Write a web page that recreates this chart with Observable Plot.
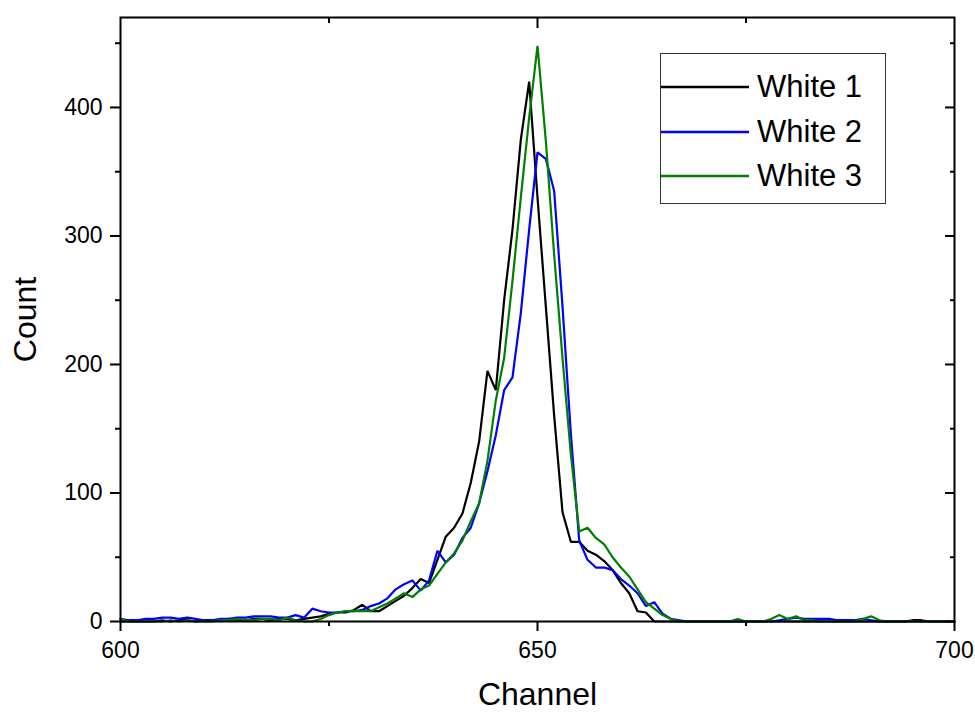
<!DOCTYPE html>
<html>
<head>
<meta charset="utf-8">
<script src="https://cdn.jsdelivr.net/npm/d3@7"></script>
<script src="https://cdn.jsdelivr.net/npm/@observablehq/plot@0.6"></script>
<style>
  body { margin: 0; background: #fff; }
  #wrap { position: relative; width: 975px; height: 713px; font-family: "Liberation Sans", Arial, sans-serif; }
  #legend { position: absolute; left: 660px; top: 53px; width: 226px; height: 151px; border: 1.5px solid #333; background: #fff; box-sizing: border-box; }
  .item { position: absolute; left: 0; height: 40px; display: flex; align-items: center; }
  .item svg { display: block; }
  .item span { font-size: 31px; color: #000; margin-left: 8px; white-space: nowrap; }
</style>
</head>
<body>
<div id="wrap"></div>
<script>
// ---- data ----
const channelStart = 600, channelEnd = 700;
const seriesNames = ["White 1", "White 2", "White 3"];
const seriesColors = ["#000000", "#0000ff", "#008000"];

// counts per channel, channels 600..700
const white1 = [
  0,0,0,0,0,1,0,1,1,0,          // 600-609
  1,1,1,2,1,1,2,2,1,2,          // 610-619
  2,1,2,3,4,6,7,7,9,13,         // 620-629
  8,8,12,16,20,26,33,30,48,66,  // 630-639
  73,84,108,140,195,180,250,305,375,420, // 640-649
  330,245,160,85,62,62,55,52,47,40,      // 650-659
  30,22,8,7,0,0,0,0,0,0,        // 660-669
  0,0,0,0,0,0,0,0,0,0,          // 670-679
  0,0,0,0,0,0,0,0,0,0,          // 680-689
  0,0,0,0,0,1,1,0,0,0,          // 690-699
  0                             // 700
];
const white2 = [
  2,1,1,2,2,3,3,2,3,2,
  1,1,2,2,3,3,4,4,4,3,
  3,5,3,10,8,7,7,8,8,9,
  12,14,18,25,29,32,24,32,55,46,
  52,65,73,92,117,145,180,190,240,305,
  365,360,335,245,146,63,48,42,42,40,
  33,28,22,12,15,6,2,1,0,0,
  0,0,0,0,0,0,0,0,0,1,
  2,3,2,2,2,2,1,1,1,2,
  1,0,0,0,0,0,0,0,0,0,
  0
];
const white3 = [
  2,0,0,0,0,0,1,0,1,0,
  0,0,1,1,2,1,1,2,2,1,
  3,1,0,0,2,5,7,8,8,8,
  8,11,14,18,22,19,25,28,37,46,
  53,63,78,92,125,172,205,265,330,392,
  448,374,285,205,130,70,73,65,60,50,
  42,35,25,15,10,5,2,0,0,0,
  0,0,0,0,2,0,0,0,2,5,
  2,4,1,1,0,0,0,0,0,2,
  4,1,0,0,0,0,0,0,0,0,
  0
];
const xMajorTicks = [600, 650, 700];
const xMinorTicks = [625, 675];
const yMajorTicks = [0, 100, 200, 300, 400];
const yMinorTicks = [50, 150, 250, 350, 450];

// ---- build table ----
const seriesValues = [white1, white2, white3];
const data = [];
seriesValues.forEach((vals, s) => {
  vals.forEach((v, i) => data.push({channel: channelStart + i, count: v, series: seriesNames[s]}));
});

const blank = () => "";
const chart = Plot.plot({
  width: 975,
  height: 713,
  marginLeft: 120,
  marginRight: 21,
  marginTop: 17,
  marginBottom: 92,
  style: {fontFamily: "'Liberation Sans', Arial, sans-serif", fontSize: "23px", color: "#000", background: "#fff"},
  x: {domain: [channelStart, channelEnd]},
  y: {domain: [0, 470]},
  color: {domain: seriesNames, range: seriesColors},
  marks: [
    Plot.lineY(data, {x: "channel", y: "count", z: "series", stroke: "series", strokeWidth: 2.2, strokeLinejoin: "miter"}),
    // bottom
    Plot.axisX({anchor: "bottom", ticks: xMajorTicks, tickSize: 10, tickPadding: 10, strokeWidth: 2, tickFormat: d => String(d), fontSize: 23,
      label: "Channel", labelAnchor: "center", labelArrow: "none", labelOffset: 83}),
    Plot.axisX({anchor: "bottom", ticks: xMinorTicks, tickSize: 5, strokeWidth: 2, tickFormat: blank, label: null}),
    // top (inward)
    Plot.axisX({anchor: "top", ticks: [650], tickSize: 10, dy: 10, strokeWidth: 2, tickFormat: blank, label: null}),
    Plot.axisX({anchor: "top", ticks: xMinorTicks, tickSize: 5, dy: 5, strokeWidth: 2, tickFormat: blank, label: null}),
    // left
    Plot.axisY({anchor: "left", ticks: yMajorTicks, tickSize: 10, tickPadding: 8, strokeWidth: 2, tickFormat: d => String(d), fontSize: 23,
      label: "Count", labelAnchor: "center", labelArrow: "none", labelOffset: 107}),
    Plot.axisY({anchor: "left", ticks: yMinorTicks, tickSize: 5, strokeWidth: 2, tickFormat: blank, label: null}),
    // right (inward)
    Plot.axisY({anchor: "right", ticks: yMajorTicks, tickSize: 10, dx: -10, strokeWidth: 2, tickFormat: blank, label: null}),
    Plot.axisY({anchor: "right", ticks: yMinorTicks, tickSize: 5, dx: -5, strokeWidth: 2, tickFormat: blank, label: null}),
    Plot.frame({stroke: "#000", strokeWidth: 2})
  ]
});
d3.select(chart).selectAll("[aria-label$='axis label'] text").style("font-size", "32px");

const wrap = document.getElementById("wrap");
wrap.appendChild(chart);

// ---- legend (overlay) ----
const legend = document.createElement("div");
legend.id = "legend";
const itemTops = [13, 58, 102];
seriesNames.forEach((name, i) => {
  const item = document.createElement("div");
  item.className = "item";
  item.style.top = itemTops[i] + "px";
  item.innerHTML = `<svg width="88" height="4"><line x1="0" x2="88" y1="2" y2="2" stroke="${seriesColors[i]}" stroke-width="2.5"/></svg><span>${name}</span>`;
  legend.appendChild(item);
});
wrap.appendChild(legend);
</script>
</body>
</html>
